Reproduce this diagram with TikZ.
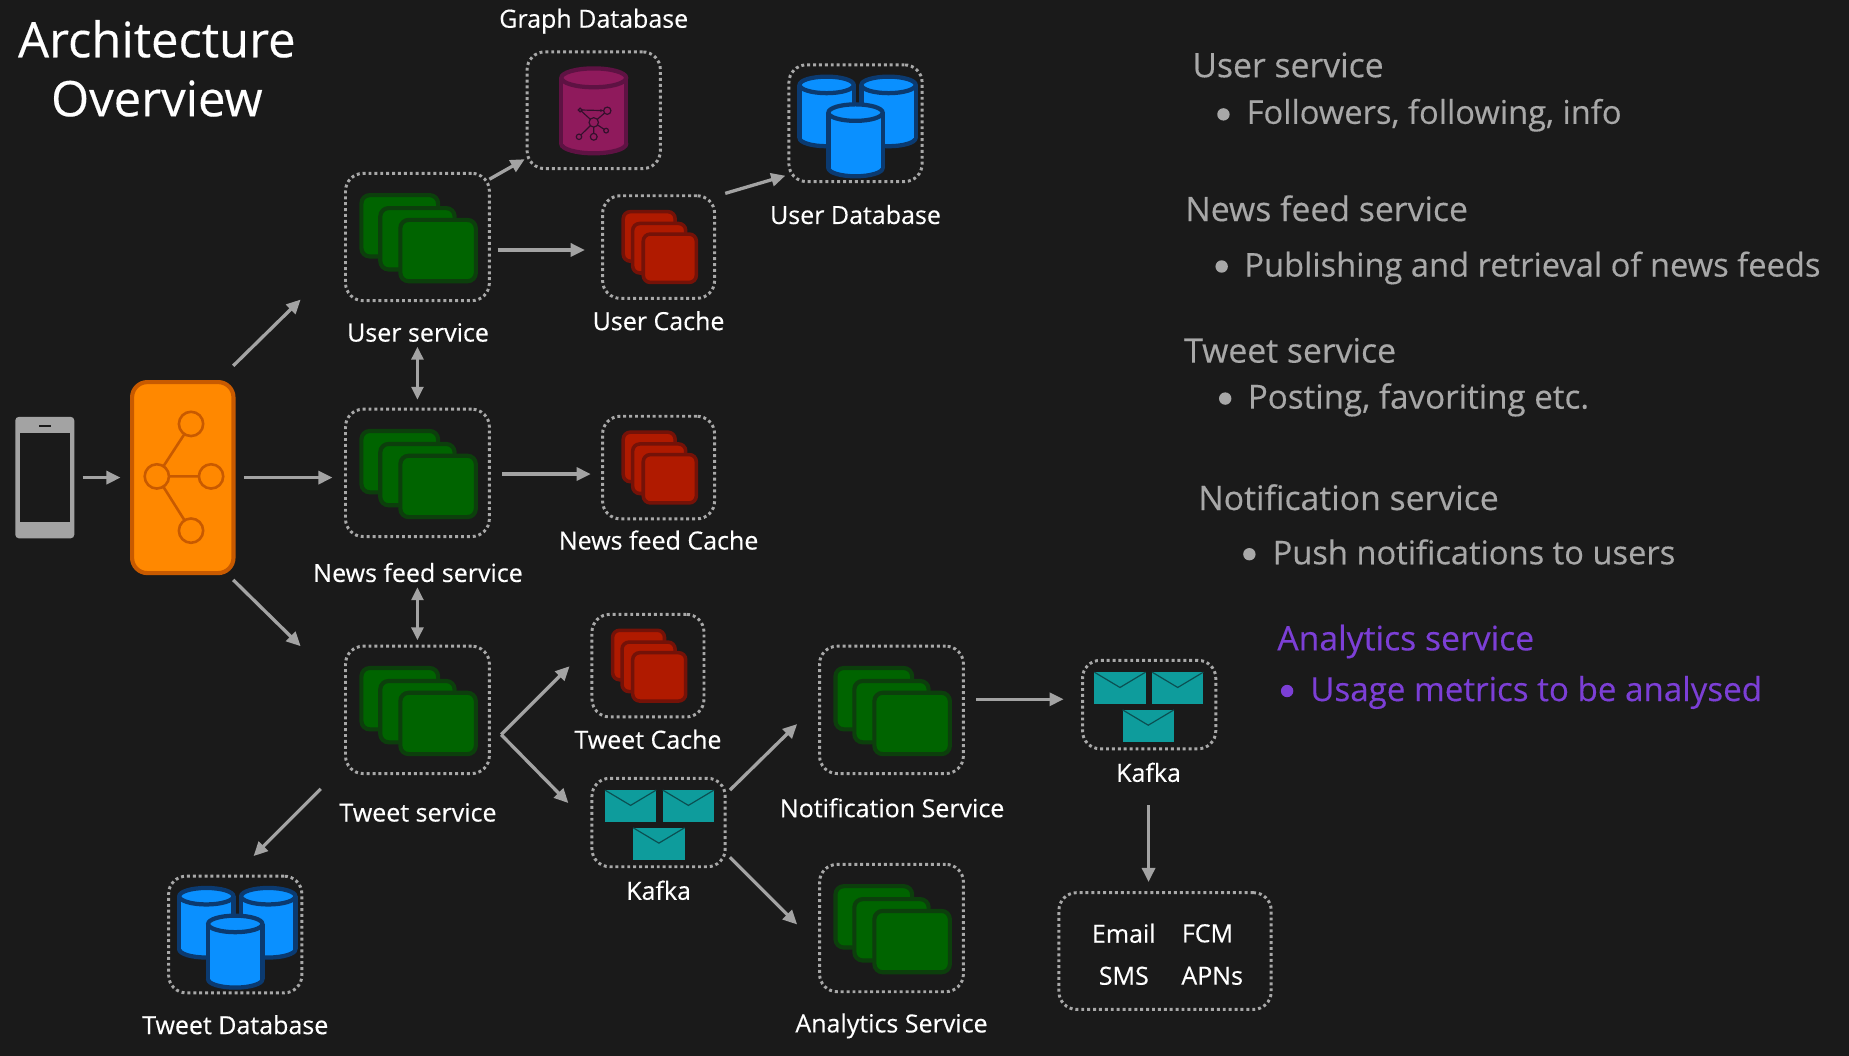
\documentclass[tikz,border=0pt]{standalone}
\usepackage{fontspec}
\setmainfont{Open Sans}[RawFeature={embolden=0.35}]
\usetikzlibrary{arrows.meta}
\definecolor{bg}{HTML}{1A1A1A}
\definecolor{linegray}{HTML}{A3A3A3}
\definecolor{dotgray}{HTML}{A8A8A8}
\definecolor{sidegray}{HTML}{A8A8A8}
\definecolor{purp}{HTML}{7C3FD6}
\definecolor{grnf}{HTML}{006400}
\definecolor{grns}{HTML}{0C3F0C}
\definecolor{redf}{HTML}{B01A00}
\definecolor{reds}{HTML}{741208}
\definecolor{bluef}{HTML}{0A90FF}
\definecolor{blues}{HTML}{0B3A70}
\definecolor{magf}{HTML}{8F1A5C}
\definecolor{mags}{HTML}{5E1243}
\definecolor{magd}{HTML}{33102C}
\definecolor{tealf}{HTML}{0E9C9C}
\definecolor{teald}{HTML}{0B4F52}
\definecolor{orgf}{HTML}{FF8800}
\definecolor{orgs}{HTML}{C85A00}
\tikzset{
  dotbox/.style={draw=dotgray,line width=2.5pt,dash pattern=on 2.5pt off 2.5pt,rounded corners=15pt,inner sep=0pt,outer sep=0pt},
  arr/.style={draw=linegray,line width=2.8pt,-{Triangle[length=12pt,width=11pt]}},
  darr/.style={draw=linegray,line width=2.8pt,{Triangle[length=11pt,width=10pt]}-{Triangle[length=11pt,width=10pt]}},
  lbl/.style={text=white,font=\fontsize{21.2}{24}\selectfont,inner sep=0pt,outer sep=0pt,anchor=center},
  side/.style={text=sidegray,font=\fontsize{27.7}{30}\selectfont,inner sep=0pt,anchor=base west},
  sidehead/.style={text=sidegray,font=\fontsize{28.6}{30}\selectfont,inner sep=0pt,anchor=base west},
  sidewide/.style={text=sidegray,font=\fontsize{28.1}{30}\selectfont,inner sep=0pt,anchor=base west},
  purhead/.style={text=purp,font=\fontsize{28.6}{30}\selectfont,inner sep=0pt,anchor=base west},
  purtext/.style={text=purp,font=\fontsize{28.1}{30}\selectfont,inner sep=0pt,anchor=base west},
  sidedot/.style={circle,fill=sidegray,minimum size=10.5pt,inner sep=0pt},
  purdot/.style={circle,fill=purp,minimum size=10.5pt,inner sep=0pt},
  grncard/.style={fill=grnf,draw=grns,line width=3.5pt,rounded corners=7pt},
  redcard/.style={fill=redf,draw=reds,line width=3pt,rounded corners=6pt},
  envelope/.style={fill=tealf},
  flap/.style={draw=teald,line width=1pt},
}
\newcommand{\svcstack}[1]{\begin{scope}[shift={(#1.center)}]
  \draw[grncard] (-47.5,-35.5) rectangle (17.5,16.5);
  \draw[grncard] (-31.5,-24.5) rectangle (31.5,27.5);
  \draw[grncard] (-14.5,-14.5) rectangle (49.5,37.5);
\end{scope}}
\newcommand{\cachestack}[1]{\begin{scope}[shift={(#1.center)}]
  \draw[redcard] (-30,-30) rectangle (14,12);
  \draw[redcard] (-22,-20) rectangle (23,22);
  \draw[redcard] (-13,-11) rectangle (32,30);
\end{scope}}
\newcommand{\oneenv}[2]{%
  \fill[envelope] (#1,#2) rectangle ++(43.5,27);
  \draw[flap] (#1,#2) -- ++(21.75,13) -- ++(21.75,-13);}
\newcommand{\kafkaicon}[2]{\begin{scope}[shift={(#1.center)},xshift=#2pt]
  \oneenv{-45.5}{-27.5}\oneenv{3.5}{-27.5}\oneenv{-21.5}{4.5}
\end{scope}}
\newcommand{\cylin}[7]{% cx top bottom halfw ry fill stroke
  \draw[fill=#6,draw=#7,line width=3.6pt] (#1,#3-#5) ellipse (#4pt and #5pt);
  \fill[#6] (#1-#4,#2+#5) rectangle (#1+#4,#3-#5);
  \draw[#7,line width=3.6pt] (#1-#4,#2+#5) -- (#1-#4,#3-#5) (#1+#4,#2+#5) -- (#1+#4,#3-#5);
  \draw[fill=#6,draw=#7,line width=3.6pt] (#1,#2+#5) ellipse (#4pt and #5pt);}
\newcommand{\dbicon}[1]{\begin{scope}[shift={(#1.center)}]
  \cylin{-24.5}{-39.5}{19.5}{23}{7}{bluef}{blues}
  \cylin{28}{-39.5}{19.5}{23}{7}{bluef}{blues}
  \cylin{0}{-16}{45}{23}{7}{bluef}{blues}
\end{scope}}
\begin{document}
\begin{tikzpicture}[x=1pt,y=-1pt]
\useasboundingbox (0,0) rectangle (1568,895.5);
\fill[bg] (0,0) rectangle (1568,896);

% title
\node[text=white,align=center,font=\fontsize{41.5}{50}\selectfont,inner sep=0pt] (title) at (133,58) {Architecture\\Overview};

% client and load balancer
\node[fill=linegray,rounded corners=3pt,minimum width=50pt,minimum height=103pt,inner sep=0pt,outer sep=0pt] (phone) at (38,405) {};
\fill[bg] (17,367) rectangle (59,443);
\fill[bg] (33,360.2) rectangle (43,361.8);
\node[fill=orgf,draw=orgs,line width=3.5pt,rounded corners=13pt,minimum width=86pt,minimum height=162pt,inner sep=0pt,outer sep=1.75pt] (lb) at (155,405) {};
\draw[orgs,line width=2.2pt] (133,404) -- (162,359.5) (133,404) -- (179,404) (133,404) -- (162,450);
\foreach \cx/\cy in {162/359.5,133/404,179/404,162/450}{\draw[orgs,fill=orgf,line width=2.2pt] (\cx,\cy) circle (10.3pt);}

% boxes
\node[dotbox,minimum width=122pt,minimum height=108pt] (user) at (354,201) {};
\node[dotbox,minimum width=122pt,minimum height=108pt] (news) at (354,401) {};
\node[dotbox,minimum width=122pt,minimum height=108pt] (tweet) at (354,602) {};
\node[dotbox,minimum width=122pt,minimum height=108pt] (notif) at (756,602) {};
\node[dotbox,minimum width=122pt,minimum height=108pt] (analytics) at (756,787) {};
\node[dotbox,minimum width=95pt,minimum height=87pt] (ucache) at (558.5,209.5) {};
\node[dotbox,minimum width=95pt,minimum height=87pt] (ncache) at (558.5,396.5) {};
\node[dotbox,minimum width=95pt,minimum height=87pt] (tcache) at (549.5,564.5) {};
\node[dotbox,minimum width=113pt,minimum height=99pt] (graph) at (503.5,93.5) {};
\node[dotbox,minimum width=113pt,minimum height=99pt] (udb) at (725.5,104.5) {};
\node[dotbox,minimum width=113pt,minimum height=99pt] (tdb) at (199.5,792.5) {};
\node[dotbox,minimum width=113pt,minimum height=75pt] (kafkaa) at (558.5,697.5) {};
\node[dotbox,minimum width=113pt,minimum height=75pt] (kafkab) at (974.5,597.5) {};
\node[dotbox,minimum width=180pt,minimum height=99pt] (out) at (988,806.5) {};

% icons
\svcstack{user}\svcstack{news}\svcstack{tweet}\svcstack{notif}\svcstack{analytics}
\cachestack{ucache}\cachestack{ncache}\cachestack{tcache}
\dbicon{udb}\dbicon{tdb}
\kafkaicon{kafkaa}{0}\kafkaicon{kafkab}{-1}
\begin{scope}[shift={(graph.center)}]
  \cylin{0}{-35.5}{36.5}{27.5}{8}{magf}{mags}
  \draw[magd,line width=1pt] (0,10.3) -- (-11.5,-0.2) (0,10.3) -- (11.5,0.4) (0,10.3) -- (-12.5,22.5) (0,10.3) -- (0,22.5) (0,10.3) -- (10.5,17.3);
  \draw[magd,line width=1pt,-{Stealth[length=3pt]}] (-10,-0.2) -- (8.5,0.3);
  \foreach \cx/\cy/\r in {0/10.3/4,-11.5/-0.2/1.6,11.5/0.4/3.1,-12.5/22.5/2.3,0/22.5/2.9,10.5/17.3/2}{\draw[magd,fill=magf,line width=1pt] (\cx,\cy) circle (\r pt);}
\end{scope}

% labels
\node[lbl] (lgraph) at (503.5,18) {Graph Database};
\node[lbl] (ludb) at (725.5,182) {User Database};
\node[lbl] (luser) at (354.5,282) {User service};
\node[lbl] (lucache) at (558.5,272) {User Cache};
\node[lbl] (lnews) at (354.5,485.5) {News feed service};
\node[lbl] (lncache) at (558.5,458) {News feed Cache};
\node[lbl] (ltweet) at (354.5,689) {Tweet service};
\node[lbl] (ltcache) at (549.5,627) {Tweet Cache};
\node[lbl] (lkafkaa) at (558.5,755) {Kafka};
\node[lbl] (lkafkab) at (974,655) {Kafka};
\node[lbl] (lnotif) at (756.5,685) {Notification Service};
\node[lbl] (lanalytics) at (756,870) {Analytics Service};
\node[lbl] (ltdb) at (199.5,869) {Tweet Database};
\node[lbl] (email) at (953,791.5) {Email};
\node[lbl] (fcm) at (1024,791.5) {FCM};
\node[lbl] (sms) at (953,827.5) {SMS};
\node[lbl] (apns) at (1028,827.5) {APNs};

% connectors
\draw[arr] ([shift={(7,0)}]phone.east) -- ([shift={(-8,0)}]lb.west);
\draw[arr] ([shift={(-2,-12)}]lb.north east) -- ([shift={(-38,-1)}]user.south west);
\draw[arr] ([shift={(7,0)}]lb.east) -- ([shift={(-11,4)}]news.west);
\draw[arr] ([shift={(-2,4)}]lb.south east) -- ([shift={(-38,0)}]tweet.north west);
\draw[arr] ([shift={(0,5)}]user.north east) -- ([shift={(-2,-8)}]graph.south west);
\draw[arr] ([shift={(7,11)}]user.east) -- ([shift={(-15,2.5)}]ucache.west);
\draw[arr] ([shift={(9,-2)}]ucache.north east) -- ([shift={(-3,-5)}]udb.south west);
\draw[darr] ([shift={(0,39)}]user.south) -- ([shift={(0,-8)}]news.north);
\draw[arr] ([shift={(11,1)}]news.east) -- ([shift={(-10,5.5)}]ncache.west);
\draw[darr] ([shift={(0,43)}]news.south) -- ([shift={(0,-5)}]tweet.north);
\coordinate (fork) at ([shift={(10,21)}]tweet.east);
\draw[arr] (fork) -- ([shift={(-19,-43)}]tcache.south west);
\draw[arr] (fork) -- ([shift={(-20,-16.5)}]kafkaa.west);
\draw[arr] ([shift={(-21,13)}]tweet.south west) -- ([shift={(-41,-17)}]tdb.north east);
\draw[arr] ([shift={(4,10)}]kafkaa.north east) -- ([shift={(-19,-42)}]notif.south west);
\draw[arr] ([shift={(4,-8)}]kafkaa.south east) -- ([shift={(-19,-3)}]analytics.west);
\draw[arr] ([shift={(11,-9)}]notif.east) -- ([shift={(-16,-4.5)}]kafkab.west);
\draw[arr] ([shift={(-0.5,48)}]kafkab.south) -- ([shift={(-14,-9)}]out.north);

% side text
\node[sidehead] (s1) at (1011,65.5) {User service};
\node[sidedot] (b1) at (1037.5,97) {};
\node[side] (s1a) at (1057,105) {Followers, following, info};
\node[sidehead] (s2) at (1005,187.5) {News feed service};
\node[sidedot] (b2) at (1036,226) {};
\node[side] (s2a) at (1055,234.5) {Publishing and retrieval of news feeds};
\node[sidehead] (s3) at (1004,307.5) {Tweet service};
\node[sidedot] (b3) at (1039,338) {};
\node[sidewide] (s3a) at (1058,346.5) {Posting, favoriting etc.};
\node[sidehead] (s4) at (1016,432.5) {Notification service};
\node[sidedot] (b4) at (1059.5,470) {};
\node[side] (s4a) at (1079,478.5) {Push notifications to users};
\node[purhead] (s5) at (1083,551.5) {Analytics service};
\node[purdot] (b5) at (1091.5,586) {};
\node[purtext] (s5a) at (1111,594.5) {Usage metrics to be analysed};
\end{tikzpicture}
\end{document}
